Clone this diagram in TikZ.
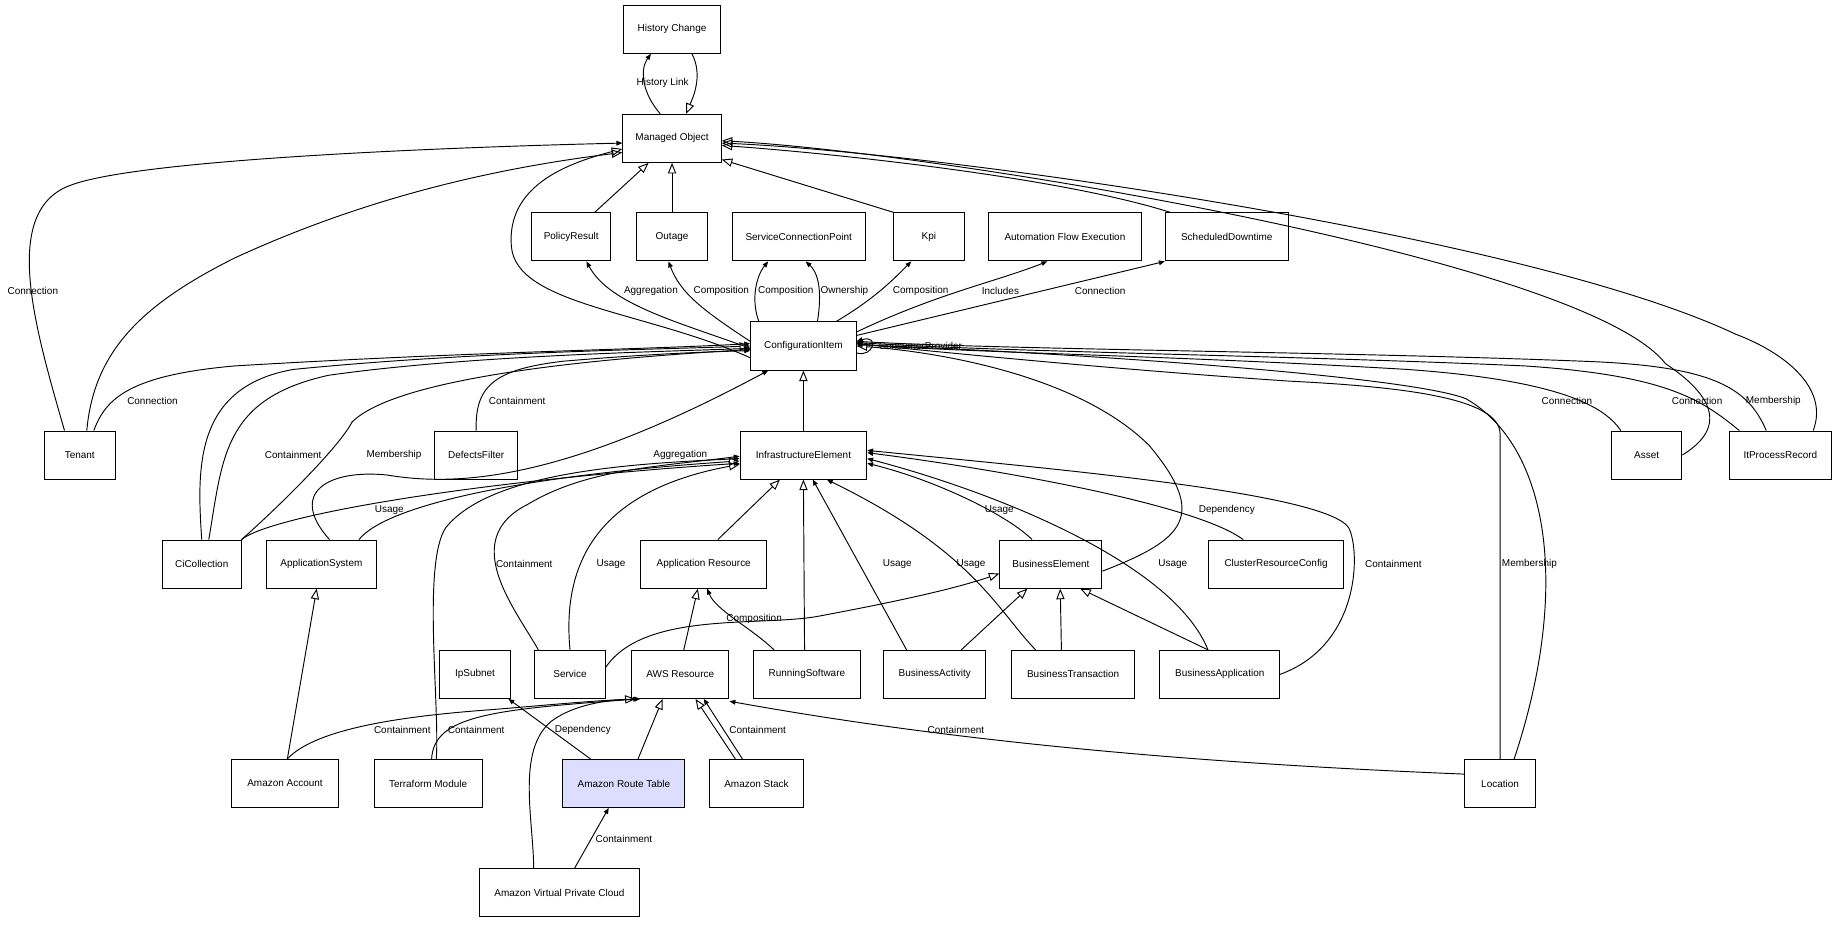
\documentclass[tikz,border=0pt]{standalone}
\usepackage{fontspec}
\setmainfont{Liberation Sans}
\usetikzlibrary{arrows.meta}
\begin{document}
\begin{tikzpicture}[x=1pt,y=-1pt,
  box/.style={draw,thick,minimum height=41pt,inner sep=0pt,font=\fontsize{8.5}{10}\selectfont},
  lbl/.style={font=\fontsize{8.5}{10}\selectfont,inner sep=1pt},
  inh/.style={-{Triangle[open,length=9pt,width=7pt]},thick},
  asc/.style={-{Triangle[length=5pt,width=4pt]},thick},
  every path/.style={line width=0.6pt}]
\useasboundingbox (0,0) rectangle (1568,788);
% nodes
\node[box,minimum width=82] (hc) at (573,25) {History Change};
\node[box,minimum width=84] (mo) at (573,118) {Managed Object};
\node[box,minimum width=67] (pr) at (487,202) {PolicyResult};
\node[box,minimum width=60] (out) at (573,202) {Outage};
\node[box,minimum width=113] (scp) at (681,202) {ServiceConnectionPoint};
\node[box,minimum width=60] (kpi) at (792,202) {Kpi};
\node[box,minimum width=130] (afe) at (908,202) {Automation Flow Execution};
\node[box,minimum width=105] (sd) at (1046,202) {ScheduledDowntime};
\node[box,minimum width=90] (ci) at (685,295) {ConfigurationItem};
\node[box,minimum width=61] (ten) at (68,388) {Tenant};
\node[box,minimum width=71] (df) at (406,388) {DefectsFilter};
\node[box,minimum width=108] (ie) at (685,388) {InfrastructureElement};
\node[box,minimum width=60] (asset) at (1404,388) {Asset};
\node[box,minimum width=87] (itpr) at (1518,388) {ItProcessRecord};
\node[box,minimum width=67] (cic) at (172,481) {CiCollection};
\node[box,minimum width=94] (as) at (274,481) {ApplicationSystem};
\node[box,minimum width=107] (ar) at (600,481) {Application Resource};
\node[box,minimum width=87] (be) at (896,481) {BusinessElement};
\node[box,minimum width=115] (crc) at (1088,481) {ClusterResourceConfig};
\node[box,minimum width=60] (ip) at (405,575) {IpSubnet};
\node[box,minimum width=60] (svc) at (486,575) {Service};
\node[box,minimum width=83] (aws) at (580,575) {AWS Resource};
\node[box,minimum width=91] (rs) at (688,575) {RunningSoftware};
\node[box,minimum width=87] (ba) at (797,575) {BusinessActivity};
\node[box,minimum width=105] (bt) at (915,575) {BusinessTransaction};
\node[box,minimum width=102] (bapp) at (1040,575) {BusinessApplication};
\node[box,minimum width=92] (acc) at (243,668) {Amazon Account};
\node[box,minimum width=92] (tm) at (365,668) {Terraform Module};
\node[box,minimum width=104,fill={rgb,255:red,221;green,221;blue,255}] (rt) at (532,668) {Amazon Route Table};
\node[box,minimum width=80] (stk) at (645,668) {Amazon Stack};
\node[box,minimum width=61] (loc) at (1279,668) {Location};
\node[box,minimum width=137] (vpc) at (477,761) {Amazon Virtual Private Cloud};
% top
\draw[asc] ([xshift=-10pt]mo.north) .. controls (548,80) and (545,60) .. ([xshift=-18pt]hc.south);
\draw[inh] ([xshift=17pt]hc.south) .. controls (600,65) and (590,85) .. ([xshift=12pt]mo.north);
\node[lbl] (l1) at (565,71) {History Link};
\draw[inh] ([xshift=20pt]pr.north) -- ([xshift=-20pt]mo.south);
\draw[inh] (out) -- (mo);
\draw[inh] ([xshift=-30pt]kpi.north) -- ([yshift=-18pt]mo.east);
\draw[inh] ([xshift=-48pt]sd.north) .. controls (900,150) and (700,130) .. ([yshift=-6pt]mo.east);
\draw[asc] ([xshift=-13pt]ten.north) .. controls (30,280) and (0,180) .. (60,158) .. controls (120,135) and (400,125) .. ([yshift=-4pt]mo.west);
\node[lbl] (l2) at (28,248) {Connection};
\draw[inh] ([xshift=6pt]ten.north) .. controls (80,300) and (120,260) .. (200,220) .. controls (330,160) and (450,140) .. ([yshift=-12pt]mo.west);
\draw[inh] ([yshift=-10pt]ci.west) .. controls (550,265) and (440,260) .. (436,210) .. controls (432,160) and (480,140) .. ([yshift=-9pt]mo.west);
\draw[inh] (asset.east) .. controls (1480,360) and (1450,330) .. (1420,310) .. controls (1350,220) and (800,130) .. ([yshift=-2pt]mo.east);
\draw[inh] ([xshift=28pt]itpr.north) .. controls (1560,330) and (1520,300) .. (1480,285) .. controls (1300,200) and (800,130) .. ([yshift=-4pt]mo.east);
% CI to top row
\draw[asc] ([yshift=-2pt]ci.west) .. controls (580,275) and (520,260) .. ([xshift=13pt]pr.south);
\node[lbl] (l3) at (555,248) {Aggregation};
\draw[asc] ([yshift=4pt]ci.west) .. controls (600,265) and (580,250) .. ([xshift=-3pt]out.south);
\node[lbl] (l4) at (615,248) {Composition};
\draw[asc] ([xshift=-38pt]ci.north) .. controls (640,255) and (645,235) .. ([xshift=-26pt]scp.south);
\node[lbl] (l5) at (670,248) {Composition};
\draw[asc] ([xshift=12pt]ci.north) .. controls (700,255) and (700,235) .. ([xshift=6pt]scp.south);
\node[lbl] (l6) at (720,248) {Ownership};
\draw[asc] ([xshift=28pt]ci.north) .. controls (745,255) and (760,240) .. ([xshift=-15pt]kpi.south);
\node[lbl] (l7) at (785,248) {Composition};
\draw[asc] ([yshift=12pt]ci.east) .. controls (800,250) and (850,240) .. ([xshift=-15pt]afe.south);
\node[lbl] (l8) at (853,248) {Includes};
\draw[asc] ([yshift=9pt]ci.east) -- (sd.south west);
\node[lbl] (l9) at (938,248) {Connection};
\draw[asc] ([yshift=-6pt]ci.east) .. controls (745,305) and (750,285) .. ([yshift=4pt]ci.east);
\node[lbl,anchor=west] (l10) at (748,295) {ConsumerProvider};
% to CI from left
\draw[inh] (ie) -- (ci);
\draw[asc] ([xshift=12pt]ten.north) .. controls (90,340) and (110,320) .. (200,312) .. controls (400,300) and (550,298) .. ([yshift=2pt]ci.west);
\node[lbl] (l11) at (130,342) {Connection};
\draw[inh] ([xshift=0pt]cic.north) .. controls (168,400) and (165,330) .. (250,315) .. controls (400,300) and (560,298) .. ([yshift=0pt]ci.west);
\draw[asc] ([xshift=6pt]cic.north) .. controls (190,390) and (190,340) .. (280,320) .. controls (400,303) and (560,300) .. ([yshift=-2pt]ci.west);
\node[lbl] (l12) at (250,388) {Containment};
\draw[asc] (cic.north east) .. controls (240,430) and (290,380) .. (300,360) .. controls (340,320) and (520,305) .. ([yshift=-3pt]ci.west);
\node[lbl] (l13) at (336,388) {Membership};
\draw[asc] (df.north) .. controls (405,330) and (420,315) .. (480,308) .. controls (550,302) and (600,300) .. ([yshift=-4pt]ci.west);
\node[lbl] (l14) at (441,342) {Containment};
\draw[asc] ([xshift=7pt]as.north) .. controls (245,420) and (280,400) .. (330,405) .. controls (390,415) and (480,410) .. ([xshift=-30pt]ci.south);
\node[lbl] (l15) at (580,388) {Aggregation};
% to IE
\draw[asc] (cic.north east) .. controls (230,440) and (400,410) .. ([yshift=-7pt]ie.west);
\node[lbl] (l16) at (332,435) {Usage};
\draw[inh] ([xshift=32pt]as.north) .. controls (330,430) and (450,405) .. ([yshift=-5pt]ie.west);
\draw[asc] ([xshift=7pt]tm.north) .. controls (375,600) and (360,480) .. (380,450) .. controls (420,400) and (550,395) .. ([yshift=-3pt]ie.west);
\draw[asc] ([xshift=-27pt]svc.north) .. controls (440,520) and (390,460) .. (450,430) .. controls (500,400) and (560,398) .. ([yshift=-1pt]ie.west);
\node[lbl] (l17) at (447,481) {Containment};
\draw[inh] ([xshift=0pt]svc.north) .. controls (480,490) and (500,420) .. ([yshift=-8pt]ie.west);
\node[lbl] (l18) at (521,481) {Usage};
\draw[inh] ([xshift=12pt]ar.north) -- ([xshift=-20pt]ie.south);
\draw[inh] ([xshift=-2pt]rs.north) -- (ie.south);
\draw[asc] ([xshift=-24pt]ba.north) -- ([xshift=8pt]ie.south);
\node[lbl] (l19) at (765,481) {Usage};
\draw[asc] ([xshift=-32pt]bt.north) .. controls (850,520) and (830,470) .. ([xshift=20pt]ie.south);
\node[lbl] (l20) at (828,481) {Usage};
\draw[asc] ([xshift=-16pt]be.north) .. controls (860,440) and (800,410) .. ([yshift=-7pt]ie.east);
\node[lbl] (l21) at (852,435) {Usage};
\draw[asc] ([xshift=-10pt]bapp.north) .. controls (1000,480) and (850,420) .. ([yshift=-3pt]ie.east);
\node[lbl] (l22) at (1000,481) {Usage};
\draw[asc] ([xshift=-28pt]crc.north) .. controls (1020,430) and (850,400) .. ([yshift=2pt]ie.east);
\node[lbl] (l23) at (1046,435) {Dependency};
\draw[asc] (bapp.east) .. controls (1160,550) and (1160,470) .. (1150,450) .. controls (1130,420) and (900,400) .. ([yshift=4pt]ie.east);
\node[lbl] (l24) at (1188,481) {Containment};
\draw[inh] ([yshift=-6pt]be.east) .. controls (1010,460) and (1030,440) .. (980,380) .. controls (920,320) and (800,300) .. ([yshift=0pt]ci.east);
% BusinessElement
\draw[inh] (ba) -- ([xshift=-20pt]be.south);
\draw[inh] ([xshift=-10pt]bt.north) -- ([xshift=8pt]be.south);
\draw[inh] ([xshift=-10pt]bapp.north) -- ([xshift=25pt]be.south);
\draw[inh] ([yshift=6pt]svc.east) .. controls (550,520) and (650,535) .. (700,525) .. controls (780,510) and (820,500) .. ([yshift=-8pt]be.west);
% AR / AWS
\draw[inh] ([xshift=3pt]aws.north) -- ([xshift=-5pt]ar.south);
\draw[asc] ([xshift=-28pt]rs.north) .. controls (640,535) and (610,520) .. ([xshift=3pt]ar.south);
\node[lbl] (l25) at (643,528) {Composition};
\draw[inh] ([xshift=2pt]acc.north) -- ([xshift=-4pt]as.south);
\draw[asc] ([xshift=2pt]acc.north) .. controls (270,620) and (350,610) .. (420,605) .. controls (480,600) and (510,597) .. ([xshift=-34pt]aws.south);
\node[lbl] (l26) at (343,622) {Containment};
\draw[asc] ([xshift=3pt]tm.north) .. controls (370,610) and (420,605) .. ([xshift=-35pt]aws.south);
\node[lbl] (l27) at (406,622) {Containment};
\draw[asc] (rt) -- (ip);
\node[lbl] (l28) at (497,622) {Dependency};
\draw[inh] ([xshift=12pt]rt.north) -- ([xshift=-15pt]aws.south);
\draw[inh] ([xshift=-18pt]stk.north) -- ([xshift=13pt]aws.south);
\draw[asc] ([xshift=-12pt]stk.north) -- ([xshift=20pt]aws.south);
\node[lbl] (l29) at (646,622) {Containment};
\draw[asc] ([yshift=8pt]loc.west) .. controls (1000,650) and (800,630) .. ([xshift=42pt,yshift=-2pt]aws.south);
\node[lbl] (l30) at (815,622) {Containment};
\draw[inh] ([xshift=-22pt]vpc.north) .. controls (455,700) and (440,640) .. (470,615) .. controls (490,600) and (520,597) .. ([xshift=-38pt]aws.south);
\draw[asc] ([xshift=13pt]vpc.north) -- ([xshift=-13pt]rt.south);
\node[lbl] (l31) at (532,715) {Containment};
% right side to CI
\draw[asc] (loc.north) -- (1279,370) .. controls (1279,340) and (1200,330) .. (1100,325) .. controls (950,315) and (800,300) .. ([yshift=2pt]ci.east);
\node[lbl] (l32) at (1304,481) {Membership};
\draw[asc] ([xshift=12pt]loc.north) .. controls (1340,500) and (1320,380) .. (1250,340) .. controls (1200,320) and (900,300) .. ([yshift=1pt]ci.east);
\draw[asc] ([xshift=-22pt]asset.north) .. controls (1370,350) and (1340,325) .. (1200,315) .. controls (1000,303) and (800,300) .. ([yshift=2pt]ci.east);
\node[lbl] (l33) at (1336,342) {Connection};
\draw[asc] ([xshift=-35pt]itpr.north) .. controls (1450,340) and (1420,320) .. (1300,312) .. controls (1100,303) and (850,300) .. ([yshift=3pt]ci.east);
\node[lbl] (l34) at (1447,342) {Connection};
\draw[asc] ([xshift=-12pt]itpr.north) .. controls (1490,330) and (1460,312) .. (1350,308) .. controls (1150,300) and (850,298) .. ([yshift=4pt]ci.east);
\node[lbl] (l35) at (1512,342) {Membership};
\end{tikzpicture}
\end{document}
